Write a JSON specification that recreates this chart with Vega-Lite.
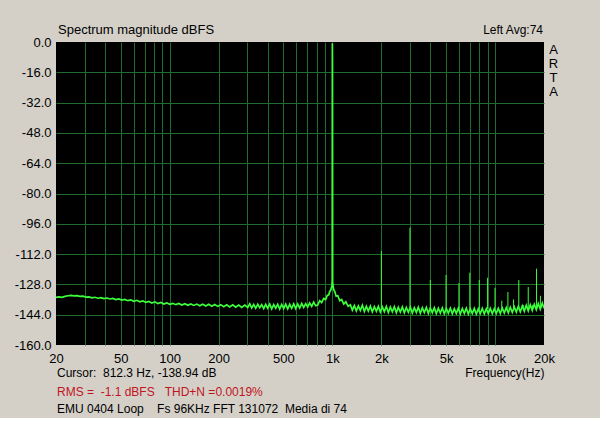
{
"$schema": "https://vega.github.io/schema/vega-lite/v6.json",
"width": 488,
"height": 303,
"autosize": "none",
"padding": {"left": 56, "top": 42, "right": 56, "bottom": 73},
"background": "#d4d0c8",
"config": {"view": {"fill": "#000000", "stroke": null}, "font": "Liberation Sans"},
"datasets": {
"spectrum": [
{"f":20.0,"db":-134.9},{"f":20.87,"db":-134.6},{"f":21.77,"db":-134.8},{"f":22.71,"db":-134.3},{"f":23.70,"db":-134.0},{"f":24.72,"db":-133.8},{"f":25.79,"db":-134.1},{"f":26.91,"db":-133.9},{"f":28.08,"db":-134.3},{"f":29.29,"db":-134.2},{"f":30.56,"db":-134.7},{"f":31.88,"db":-134.6},{"f":33.26,"db":-135.1},{"f":34.70,"db":-134.8},{"f":36.21,"db":-135.3},{"f":37.77,"db":-135.0},{"f":39.41,"db":-135.5},{"f":41.12,"db":-135.2},{"f":42.90,"db":-135.7},{"f":44.75,"db":-135.4},{"f":46.69,"db":-136.0},{"f":48.72,"db":-135.7},{"f":50.83,"db":-136.3},{"f":53.03,"db":-135.9},{"f":55.32,"db":-136.6},{"f":57.72,"db":-136.2},{"f":60.22,"db":-136.9},{"f":62.83,"db":-136.4},{"f":65.55,"db":-137.2},{"f":68.39,"db":-136.7},{"f":71.35,"db":-137.5},{"f":74.44,"db":-137.0},{"f":77.67,"db":-137.8},{"f":81.03,"db":-137.2},{"f":84.54,"db":-138.1},{"f":88.20,"db":-137.5},{"f":92.02,"db":-138.4},{"f":96.01,"db":-137.8},{"f":100.2,"db":-138.5},
{"f":104.5,"db":-138.0},{"f":109.1,"db":-138.7},{"f":113.8,"db":-138.1},{"f":118.7,"db":-138.9},{"f":123.9,"db":-138.2},{"f":129.2,"db":-139.0},{"f":134.8,"db":-138.3},{"f":140.7,"db":-139.1},{"f":146.8,"db":-138.4},{"f":153.1,"db":-139.3},{"f":159.7,"db":-138.5},{"f":166.7,"db":-139.4},{"f":173.9,"db":-138.5},{"f":181.4,"db":-139.5},{"f":189.3,"db":-138.6},{"f":197.5,"db":-139.6},{"f":206.0,"db":-138.7},{"f":214.9,"db":-139.8},{"f":224.2,"db":-138.8},{"f":233.9,"db":-139.9},{"f":244.1,"db":-138.8},{"f":254.6,"db":-140.0},{"f":265.7,"db":-138.9},{"f":277.2,"db":-140.1},{"f":289.2,"db":-138.9},{"f":301.7,"db":-140.2},
{"f":310.4,"db":-138.3},{"f":319.3,"db":-140.4},{"f":328.4,"db":-138.6},{"f":337.8,"db":-140.6},{"f":347.5,"db":-138.5},{"f":357.5,"db":-140.3},{"f":367.8,"db":-138.7},{"f":378.3,"db":-140.8},{"f":389.2,"db":-138.6},{"f":400.3,"db":-140.5},{"f":411.8,"db":-138.4},{"f":423.6,"db":-140.9},{"f":435.8,"db":-138.7},{"f":448.3,"db":-140.6},{"f":461.2,"db":-138.5},{"f":474.4,"db":-141.0},{"f":488.0,"db":-138.6},{"f":502.0,"db":-140.7},{"f":516.4,"db":-138.4},{"f":531.3,"db":-140.9},{"f":546.5,"db":-138.5},{"f":562.2,"db":-140.6},{"f":578.4,"db":-138.3},{"f":595.0,"db":-140.8},{"f":612.0,"db":-138.4},{"f":629.6,"db":-140.5},{"f":647.7,"db":-138.1},{"f":666.3,"db":-140.2},{"f":685.4,"db":-138.2},{"f":705.1,"db":-139.9},{"f":725.4,"db":-137.8},{"f":746.2,"db":-139.6},{"f":767.7,"db":-137.4},{"f":789.7,"db":-139.3},{"f":812.4,"db":-138.9},{"f":835.7,"db":-136.6},{"f":859.7,"db":-137.6},{"f":884.4,"db":-135.4},{"f":909.8,"db":-136.0},{"f":930,"db":-133.8},{"f":950,"db":-133.5},{"f":965,"db":-131.6},{"f":978,"db":-131.0},{"f":988,"db":-129.5},{"f":994,"db":-128.8},{"f":998,"db":-126.0},{"f":1000,"db":-0.6},{"f":1002,"db":-11.0},{"f":1004,"db":-126.5},{"f":1010,"db":-129.0},{"f":1020,"db":-130.8},{"f":1035,"db":-131.8},{"f":1055,"db":-134.2},{"f":1080,"db":-134.0},{"f":1110,"db":-136.6},{"f":1140,"db":-136.0},{"f":1175,"db":-138.4},{"f":1210,"db":-137.2},{"f":1250,"db":-139.6},
{"f":1290,"db":-138.8},{"f":1327,"db":-141.6},{"f":1365,"db":-139.2},{"f":1404,"db":-142.0},{"f":1445,"db":-139.4},{"f":1486,"db":-141.8},{"f":1529,"db":-139.0},{"f":1573,"db":-142.3},{"f":1618,"db":-139.6},{"f":1664,"db":-142.1},{"f":1712,"db":-139.5},{"f":1761,"db":-142.5},{"f":1812,"db":-139.8},{"f":1864,"db":-142.2},{"f":1917,"db":-139.6},{"f":1972,"db":-142.6},{"f":2029,"db":-139.9},{"f":2087,"db":-142.4},{"f":2147,"db":-139.7},{"f":2209,"db":-142.8},{"f":2272,"db":-140.0},{"f":2337,"db":-142.5},{"f":2404,"db":-139.8},{"f":2473,"db":-142.9},{"f":2544,"db":-140.1},{"f":2617,"db":-142.6},{"f":2693,"db":-139.9},{"f":2770,"db":-143.0},{"f":2849,"db":-140.2},{"f":2931,"db":-142.7},{"f":3015,"db":-140.0},{"f":3102,"db":-143.1},{"f":3191,"db":-140.3},{"f":3283,"db":-142.8},{"f":3377,"db":-140.1},{"f":3474,"db":-143.2},{"f":3573,"db":-140.4},{"f":3676,"db":-142.9},{"f":3782,"db":-140.2},{"f":3890,"db":-143.3},{"f":4002,"db":-140.5},{"f":4117,"db":-143.0},{"f":4235,"db":-140.3},{"f":4356,"db":-143.4},{"f":4481,"db":-140.6},{"f":4610,"db":-143.1},{"f":4742,"db":-140.4},{"f":4878,"db":-143.5},{"f":5018,"db":-140.7},{"f":5163,"db":-143.2},{"f":5311,"db":-140.5},{"f":5463,"db":-143.5},{"f":5620,"db":-140.8},{"f":5781,"db":-143.3},{"f":5947,"db":-140.6},{"f":6118,"db":-143.6},{"f":6294,"db":-140.8},{"f":6474,"db":-143.3},{"f":6660,"db":-140.6},{"f":6851,"db":-143.6},{"f":7048,"db":-140.9},{"f":7250,"db":-143.4},{"f":7458,"db":-140.7},{"f":7672,"db":-143.7},{"f":7893,"db":-140.9},{"f":8119,"db":-143.4},{"f":8352,"db":-140.7},{"f":8592,"db":-143.6},{"f":8839,"db":-140.9},{"f":9092,"db":-143.4},{"f":9353,"db":-140.7},{"f":9622,"db":-143.5},{"f":9898,"db":-140.8},{"f":10182,"db":-143.3},{"f":10474,"db":-140.6},{"f":10775,"db":-143.4},{"f":11084,"db":-140.5},{"f":11402,"db":-143.1},{"f":11730,"db":-140.3},{"f":12066,"db":-143.0},{"f":12413,"db":-140.1},{"f":12769,"db":-142.8},{"f":13135,"db":-139.9},{"f":13512,"db":-142.6},{"f":13900,"db":-139.6},{"f":14299,"db":-142.4},{"f":14709,"db":-139.4},{"f":15131,"db":-142.2},{"f":15566,"db":-139.1},{"f":16012,"db":-142.0},{"f":16472,"db":-138.8},{"f":16945,"db":-141.7},{"f":17431,"db":-138.5},{"f":17931,"db":-141.4},{"f":18446,"db":-138.2},{"f":18975,"db":-141.1},{"f":19520,"db":-137.9},{"f":20000,"db":-140.6}
],
"harmonics": [
{"f":2000,"db":-110.4,"floor":-141},{"f":3000,"db":-98.0,"floor":-141},{"f":4000,"db":-125.7,"floor":-141},{"f":5000,"db":-123.0,"floor":-141},{"f":6000,"db":-127.3,"floor":-141},{"f":7000,"db":-121.8,"floor":-141},{"f":8000,"db":-125.7,"floor":-141},{"f":9000,"db":-124.5,"floor":-141},{"f":10000,"db":-129.8,"floor":-141},{"f":11000,"db":-136.6,"floor":-141},{"f":12000,"db":-132.0,"floor":-141},{"f":13000,"db":-135.9,"floor":-141},{"f":14000,"db":-125.7,"floor":-141},{"f":15000,"db":-138.9,"floor":-141},{"f":16000,"db":-129.4,"floor":-141},{"f":17000,"db":-139.0,"floor":-141},{"f":18000,"db":-119.7,"floor":-141},{"f":19000,"db":-134.0,"floor":-141}
],
"cursor": [{"f": 812.3}],
"notes": [
{"kind":"title","text":"Spectrum magnitude dBFS","f":20,"db":4.2},
{"kind":"right","text":"Left Avg:74","f":20000,"db":4.2},
{"kind":"arta","text":"A","f":20000,"db":-6.1},
{"kind":"arta","text":"R","f":20000,"db":-13.6},
{"kind":"arta","text":"T","f":20000,"db":-21.0},
{"kind":"arta","text":"A","f":20000,"db":-28.5},
{"kind":"info","text":"Cursor:\u00a0\u00a0812.3 Hz, -138.94 dB","f":20,"db":-176.7},
{"kind":"red","text":"RMS =\u00a0\u00a0-1.1 dBFS\u00a0\u00a0\u00a0THD+N =0.0019%","f":20,"db":-186.8},
{"kind":"info","text":"EMU 0404 Loop\u00a0\u00a0\u00a0\u00a0Fs 96KHz FFT 131072\u00a0\u00a0Media di 74","f":20,"db":-195.9}
]
},
"encoding": {
"x": {"field": "f", "type": "quantitative",
 "scale": {"type": "log", "domain": [20, 20000], "nice": false},
 "axis": {
  "values": [20,30,40,50,60,70,80,90,100,200,300,400,500,600,700,800,900,1000,2000,3000,4000,5000,6000,7000,8000,9000,10000,20000],
  "labelExpr": "indexof([20,50,100,200,500,1000,2000,5000,10000,20000], datum.value) >= 0 ? (datum.value >= 1000 ? (datum.value/1000) + 'k' : '' + datum.value) : ''",
  "grid": true, "gridColor": "#1f6c2b", "gridWidth": 1,
  "gridOpacity": {"condition": {"test": "datum.value == 20 || datum.value == 20000", "value": 0}, "value": 1},
  "domain": false, "ticks": false, "tickSize": 0,
  "labelPadding": 7, "labelFontSize": 13, "labelColor": "#000000", "labelFlush": false, "labelOverlap": false, "labelBound": false,
  "title": "Frequency(Hz)", "titleAnchor": "end", "titleFontSize": 12, "titleFontWeight": "normal", "titleColor": "#000000", "titlePadding": 2
 }},
"y": {"field": "db", "type": "quantitative",
 "scale": {"domain": [-160, 0], "nice": false, "zero": false},
 "axis": {
  "values": [-160,-144,-128,-112,-96,-80,-64,-48,-32,-16,0],
  "labelExpr": "datum.value < 0 ? '-' + format(-datum.value, '.1f') : format(datum.value, '.1f')",
  "grid": true, "gridColor": "#1f6c2b", "gridWidth": 1,
  "gridOpacity": {"condition": {"test": "datum.value == -160 || datum.value == 0", "value": 0}, "value": 1},
  "domain": false, "ticks": false, "tickSize": 0,
  "labelPadding": 5, "labelFontSize": 13, "labelColor": "#000000", "labelFlush": false, "labelOverlap": false, "labelBound": false,
  "title": null
 }}
},
"layer": [
{"data": {"name": "cursor"}, "mark": {"type": "rule", "color": "#b4b43c", "strokeWidth": 1},
 "encoding": {"y": {"datum": 0}, "y2": {"datum": -160}}},
{"data": {"name": "harmonics"}, "mark": {"type": "rule", "color": "#3cff3c", "strokeWidth": 1},
 "encoding": {"y2": {"field": "floor"}}},
{"data": {"name": "spectrum"}, "mark": {"type": "line", "color": "#3cff3c", "strokeWidth": 1.7, "clip": true}, "encoding": {}},
{"data": {"name": "notes"}, "transform": [{"filter": "datum.kind == 'title'"}],
 "mark": {"type": "text", "align": "left", "baseline": "alphabetic", "fontSize": 13, "dx": 2, "color": "#000000"},
 "encoding": {"text": {"field": "text"}}},
{"data": {"name": "notes"}, "transform": [{"filter": "datum.kind == 'right'"}],
 "mark": {"type": "text", "align": "right", "baseline": "alphabetic", "fontSize": 12, "dx": -1, "color": "#000000"},
 "encoding": {"text": {"field": "text"}}},
{"data": {"name": "notes"}, "transform": [{"filter": "datum.kind == 'arta'"}],
 "mark": {"type": "text", "align": "center", "baseline": "alphabetic", "fontSize": 13, "dx": 9.5, "color": "#000000"},
 "encoding": {"text": {"field": "text"}}},
{"data": {"name": "notes"}, "transform": [{"filter": "datum.kind == 'info'"}],
 "mark": {"type": "text", "align": "left", "baseline": "alphabetic", "fontSize": 12, "dx": 1, "color": "#000000"},
 "encoding": {"text": {"field": "text"}}},
{"data": {"name": "notes"}, "transform": [{"filter": "datum.kind == 'red'"}],
 "mark": {"type": "text", "align": "left", "baseline": "alphabetic", "fontSize": 12, "dx": 1, "color": "#c0141e"},
 "encoding": {"text": {"field": "text"}}}
]
}
